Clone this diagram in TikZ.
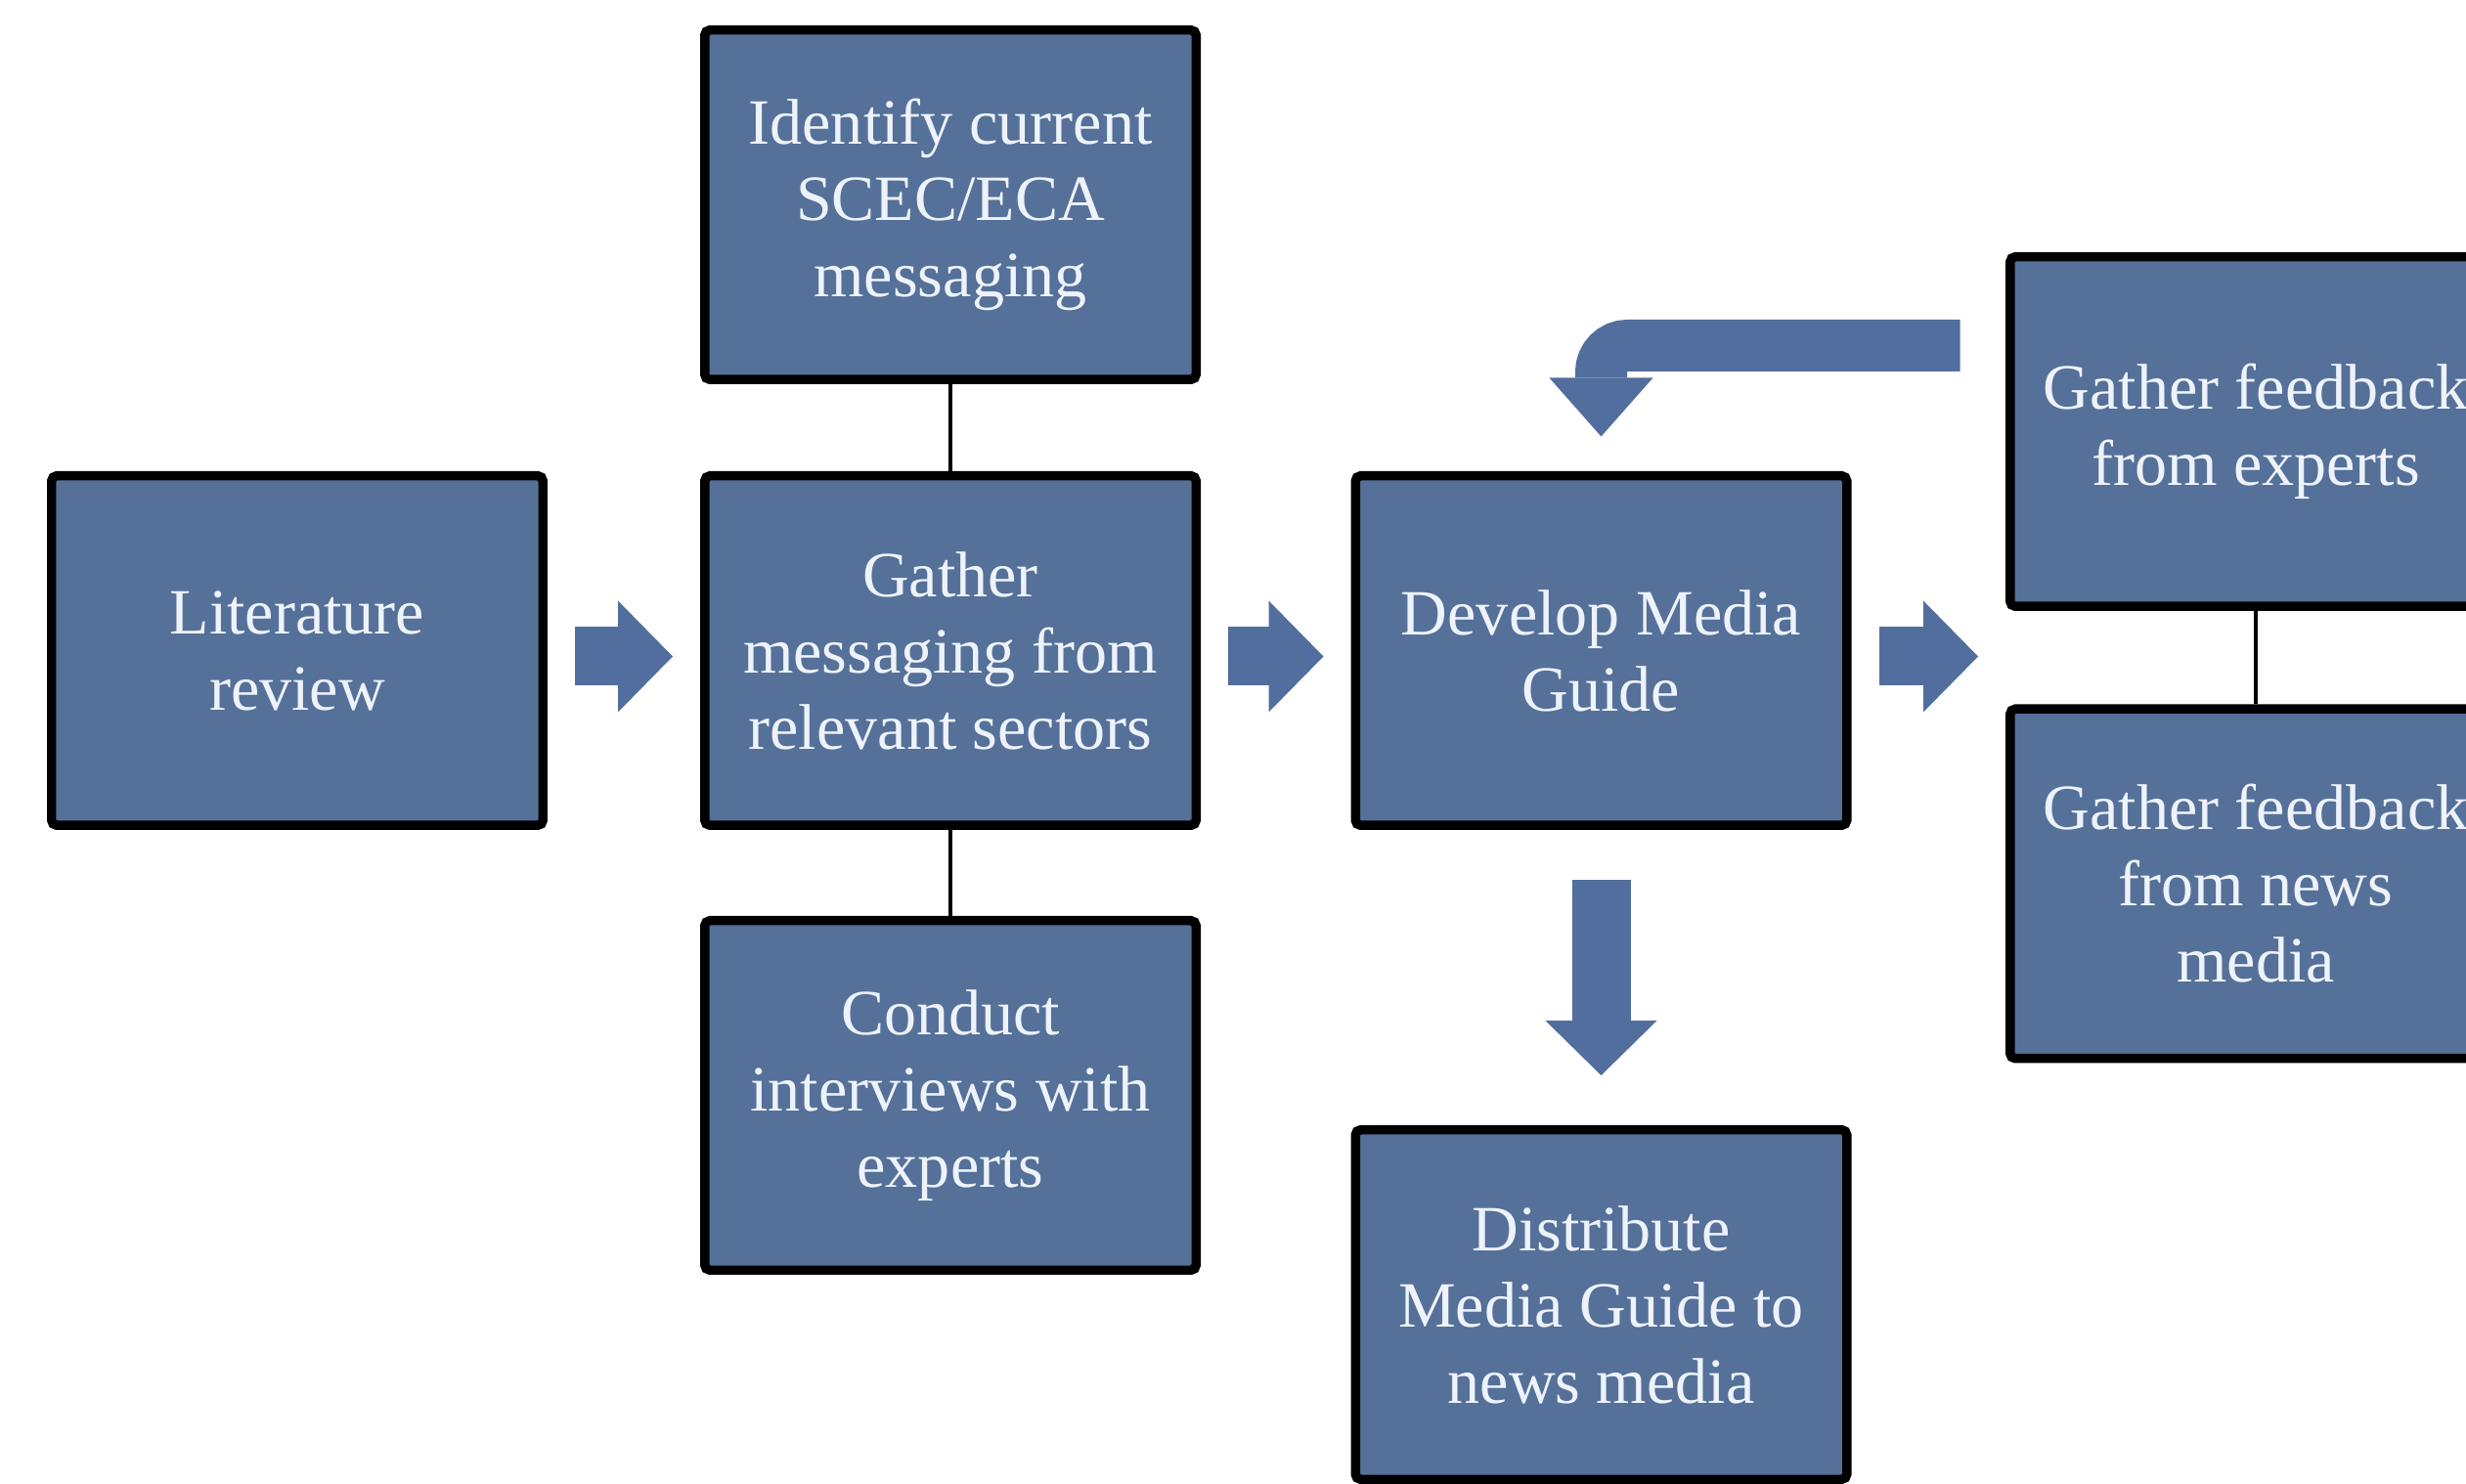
\documentclass[tikz,border=0pt]{standalone}
\usepackage{fontspec}
\setmainfont{Liberation Serif}
\usetikzlibrary{arrows.meta, positioning, calc}
\definecolor{boxBlue}{RGB}{85, 113, 153}
\definecolor{arrowBlue}{RGB}{82, 110, 158}
\definecolor{boxText}{RGB}{238, 242, 250}

\begin{document}
\begin{tikzpicture}[
  stepbox/.style={rectangle, draw=black, line width=2.7pt, fill=boxBlue,
                  rounded corners=1.5pt, minimum width=5.025cm, minimum height=3.575cm,
                  align=center, font=\fontsize{18.8}{22.2}\selectfont, text=boxText},
  link/.style={black, line width=0.9pt},
  bigarr/.style={-{Triangle[length=0.56cm, width=1.14cm, line width=0pt]},
                 line width=0.6cm, color=arrowBlue,
                 shorten <=0.28cm, shorten >=0.28cm},
  backarr/.style={-{Triangle[length=0.6cm, width=1.06cm, line width=0pt]},
                  line width=0.53cm, color=arrowBlue,
                  rounded corners=0.27cm, shorten >=0.355cm}
]
  % page frame (right column and bottom box run off the edge)
  \useasboundingbox (0,0) rectangle (25.22,15.18);
  \clip (0,0) rectangle (25.22,15.18);

  % x positions of the 4 columns, y of the middle row
  \def\xa{3.04}  \def\xb{9.72}  \def\xc{16.375}  \def\xd{23.07}
  \def\ymid{8.525}

  % Middle row
  \node[stepbox] (lit) at (\xa, \ymid) {Literature\\review};
  \node[stepbox] (gat) at (\xb, \ymid) {Gather\\messaging from\\relevant sectors};
  \node[stepbox] (dev) at (\xc, \ymid) {Develop Media\\Guide};

  % Boxes above / below
  \node[stepbox] (idf) at (\xb, 13.085) {Identify current\\SCEC/ECA\\messaging};
  \node[stepbox] (con) at (\xb, 3.975)  {Conduct\\interviews with\\experts};
  \node[stepbox] (dis) at (\xc, 1.835)  {Distribute\\Media Guide to\\news media};

  % Feedback column
  \node[stepbox] (fbx) at (\xd, 10.765) {Gather feedback\\from experts};
  \node[stepbox] (fbm) at (\xd, 6.14)   {Gather feedback\\from news\\media};

  % Plain connectors
  \draw[link] (idf) -- (gat);
  \draw[link] (gat) -- (con);
  \draw[link] (fbx) -- (fbm);

  % Block arrows
  \draw[bigarr] ([yshift=-0.06cm]lit.east) -- ([yshift=-0.06cm]gat.west);
  \draw[bigarr] ([yshift=-0.06cm]gat.east) -- ([yshift=-0.06cm]dev.west);
  \draw[bigarr] ([yshift=-0.06cm]dev.east) -- ([yshift=-0.06cm]dev.east -| fbx.west);
  \draw[bigarr, shorten <=0.51cm, shorten >=0.51cm] (dev.south) -- (dis.north);

  % Feedback arrow back into the guide
  \draw[backarr] ([xshift=-0.465cm, yshift=0.88cm]fbx.west) -| (dev.north);

\end{tikzpicture}
\end{document}
